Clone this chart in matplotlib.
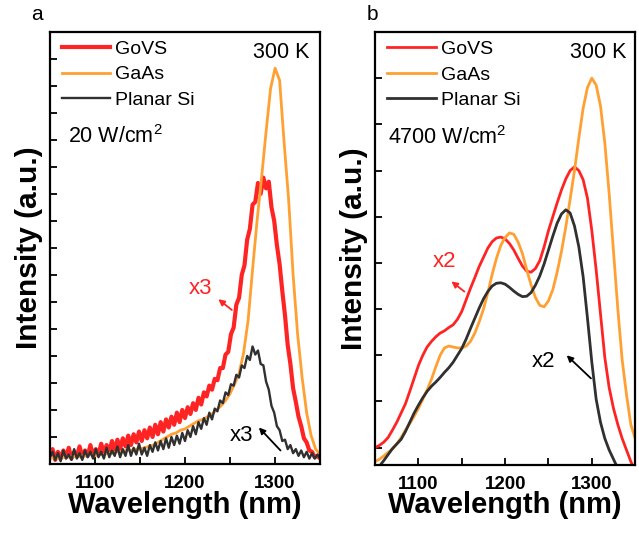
import numpy as np
import matplotlib.pyplot as plt
from matplotlib.ticker import MultipleLocator

plt.rcParams['font.family'] = ['Liberation Sans', 'DejaVu Sans']
plt.rcParams['mathtext.fontset'] = 'custom'
plt.rcParams['mathtext.rm'] = 'Liberation Sans'

# colores
rojo = '#ff2424'
naranja = '#ffa033'
negro = '#303030'

# ---- panel a: 20 W/cm2 (GoVS y Si multiplicados x3) ----
wl_a = np.arange(1050, 1351, 3)
govs_a = [0.30, 0.55, 0.15, 0.45, 0.20, 0.50, 0.25, 0.60, 0.20, 0.45,
          0.30, 0.65, 0.25, 0.50, 0.30, 0.70, 0.30, 0.55, 0.35, 0.75,
          0.40, 0.70, 0.45, 0.85, 0.50, 0.90, 0.55, 0.95, 0.65, 1.05,
          0.70, 1.10, 0.80, 1.20, 0.85, 1.25, 0.95, 1.35, 1.00, 1.45,
          1.10, 1.55, 1.20, 1.65, 1.35, 1.75, 1.45, 1.90, 1.55, 2.00,
          1.70, 2.10, 1.85, 2.25, 2.00, 2.45, 2.20, 2.65, 2.50, 2.90,
          2.75, 3.15, 3.10, 3.55, 3.55, 4.05, 4.15, 4.80, 5.05, 5.90,
          6.15, 7.00, 7.35, 8.30, 8.70, 9.60, 9.70, 10.40, 10.00, 10.60,
          10.20, 10.45, 9.50, 9.00, 8.10, 7.40, 6.40, 5.50, 4.40, 3.70,
          2.80, 2.30, 1.75, 1.40, 0.95, 0.80, 0.50, 0.45, 0.25, 0.30,
          0.20]
si_a = [0.25, 0.45, 0.15, 0.40, 0.10, 0.50, 0.20, 0.35, 0.15, 0.55,
        0.20, 0.40, 0.15, 0.50, 0.25, 0.45, 0.20, 0.55, 0.25, 0.45,
        0.20, 0.60, 0.25, 0.50, 0.30, 0.65, 0.25, 0.55, 0.30, 0.70,
        0.30, 0.60, 0.35, 0.75, 0.35, 0.60, 0.30, 0.70, 0.45, 0.80,
        0.50, 0.85, 0.55, 0.95, 0.60, 1.00, 0.70, 1.05, 0.75, 1.15,
        0.85, 1.25, 1.00, 1.40, 1.10, 1.55, 1.30, 1.70, 1.45, 1.90,
        1.65, 2.05, 1.95, 2.35, 2.25, 2.65, 2.55, 2.95, 2.90, 3.30,
        3.20, 3.65, 3.55, 4.00, 3.85, 4.35, 4.05, 4.20, 3.70, 3.65,
        3.05, 2.75, 2.15, 1.90, 1.40, 1.25, 0.85, 0.90, 0.55, 0.70,
        0.40, 0.55, 0.30, 0.50, 0.25, 0.45, 0.20, 0.40, 0.20, 0.35,
        0.20]
wl_a_gaas = np.arange(1050, 1351, 5)
gaas_a = [0.20, 0.25, 0.20, 0.25, 0.25, 0.30, 0.25, 0.30, 0.30, 0.35,
          0.30, 0.35, 0.35, 0.40, 0.40, 0.45, 0.45, 0.50, 0.50, 0.55,
          0.55, 0.60, 0.65, 0.70, 0.80, 0.90, 1.00, 1.10, 1.15, 1.25,
          1.30, 1.40, 1.50, 1.60, 1.65, 1.75, 1.85, 2.00, 2.15, 2.35,
          2.60, 2.95, 3.35, 4.10, 5.30, 7.20, 9.00, 10.60, 12.30, 13.90,
          14.65, 14.20, 11.90, 9.80, 7.00, 4.80, 3.20, 1.90, 1.05, 0.55,
          0.35]

# ---- panel b: 4700 W/cm2 ----
wl_b = np.arange(1050, 1351, 5)
govs_b = [0.00, 0.05, 0.12, 0.22, 0.38, 0.55, 0.75, 0.95, 1.22, 1.50,
          1.78, 2.00, 2.18, 2.30, 2.40, 2.48, 2.53, 2.60, 2.66, 2.78,
          2.95, 3.20, 3.45, 3.68, 3.92, 4.12, 4.32, 4.46, 4.54, 4.56,
          4.52, 4.42, 4.28, 4.10, 3.93, 3.82, 3.80, 3.88, 4.05, 4.35,
          4.70, 5.00, 5.30, 5.58, 5.82, 6.00, 6.08, 6.00, 5.80, 5.40,
          4.70, 3.85, 2.90, 1.95, 1.30, 0.85, 0.50, 0.20, -0.05, -0.30,
          -0.50]
gaas_b = [-0.30, -0.25, -0.18, -0.10, -0.03, 0.08, 0.22, 0.38, 0.52, 0.68,
          0.85, 1.05, 1.25, 1.48, 1.75, 2.00, 2.16, 2.20, 2.18, 2.16,
          2.16, 2.20, 2.30, 2.48, 2.72, 3.00, 3.35, 3.75, 4.10, 4.38,
          4.55, 4.65, 4.62, 4.45, 4.20, 3.85, 3.52, 3.25, 3.08, 3.05,
          3.18, 3.42, 3.80, 4.25, 4.78, 5.38, 6.00, 6.70, 7.35, 7.80,
          8.00, 7.85, 7.40, 6.60, 5.50, 4.25, 3.00, 1.90, 1.15, 0.50,
          0.20]
si_b = [-0.50, -0.40, -0.28, -0.15, -0.02, 0.08, 0.18, 0.35, 0.55, 0.75,
        0.92, 1.08, 1.22, 1.33, 1.42, 1.52, 1.63, 1.73, 1.85, 2.00,
        2.15, 2.35, 2.58, 2.80, 3.02, 3.22, 3.38, 3.50, 3.56, 3.57,
        3.54, 3.47, 3.39, 3.32, 3.27, 3.28, 3.36, 3.52, 3.72, 3.98,
        4.28, 4.58, 4.86, 5.06, 5.15, 5.08, 4.80, 4.35, 3.70, 2.80,
        1.85, 1.05, 0.55, 0.20, -0.05, -0.25, -0.45, -0.62, -0.78, -0.92,
        -1.05]

fig = plt.figure(figsize=(6.39, 5.33), dpi=100)
ax1 = fig.add_axes([0.078, 0.1295, 0.423, 0.811])
ax2 = fig.add_axes([0.587, 0.128, 0.407, 0.812])

ax1.plot(wl_a, govs_a, color=rojo, lw=3.0, label='GoVS')
ax1.plot(wl_a_gaas, gaas_a, color=naranja, lw=2.0, label='GaAs')
ax1.plot(wl_a, si_a, color=negro, lw=1.7, label='Planar Si')
ax1.set_ylim(0, 16)

ax2.plot(wl_b, govs_b, color=rojo, lw=2.0, label='GoVS')
ax2.plot(wl_b, gaas_b, color=naranja, lw=2.0, label='GaAs')
ax2.plot(wl_b, si_b, color=negro, lw=2.0, label='Planar Si')
ax2.set_ylim(-0.37, 9)

for ax, x_leg in ((ax1, 0.044), (ax2, 0.046)):
    ax.set_xlim(1050, 1350)
    ax.xaxis.set_major_locator(MultipleLocator(100))
    ax.xaxis.set_minor_locator(MultipleLocator(50))
    ax.yaxis.set_major_locator(MultipleLocator(1))
    ax.tick_params(axis='both', which='both', direction='in', length=5,
                   width=1.3, labelsize=13.5, pad=8)
    ax.tick_params(axis='y', labelleft=False)
    for lbl in ax.get_xticklabels():
        lbl.set_fontweight('bold')
    for s in ax.spines.values():
        s.set_linewidth(1.6)
    ax.set_xlabel('Wavelength (nm)', fontsize=21, fontweight='bold', labelpad=-1)
    ax.set_ylabel('Intensity (a.u.)', fontsize=21.5, fontweight='bold', labelpad=5)
    leg = ax.legend(loc='upper left', bbox_to_anchor=(x_leg, 0.98), frameon=False,
                    fontsize=14, handlelength=2.5, handletextpad=0.26,
                    labelspacing=0.4, borderpad=0, borderaxespad=0)
    ax.text(0.857, 0.953, '300 K', transform=ax.transAxes, fontsize=15.5,
            ha='center', va='center')

ax1.text(0.067, 0.757, '20 W/cm$^2$', transform=ax1.transAxes, fontsize=15.5,
         ha='left', va='center')
ax2.text(0.05, 0.757, '4700 W/cm$^2$', transform=ax2.transAxes, fontsize=15.5,
         ha='left', va='center')

# anotaciones x3 / x2 con flechas
flecha = dict(arrowstyle='-|>', lw=1.3, mutation_scale=9, shrinkA=0, shrinkB=0)
ax1.text(1217, 6.5, 'x3', color=rojo, fontsize=16, ha='center', va='center')
ax1.annotate('', xy=(1237, 6.1), xytext=(1252, 5.7),
             arrowprops=dict(flecha, color=rojo))
ax1.text(1263, 1.07, 'x3', color='black', fontsize=16, ha='center', va='center')
ax1.annotate('', xy=(1282, 1.35), xytext=(1306, 0.5),
             arrowprops=dict(flecha, color='black'))
ax2.text(1130, 4.03, 'x2', color=rojo, fontsize=16, ha='center', va='center')
ax2.annotate('', xy=(1138, 3.6), xytext=(1153, 3.38),
             arrowprops=dict(flecha, color=rojo))
ax2.text(1244, 1.86, 'x2', color='black', fontsize=16, ha='center', va='center')
ax2.annotate('', xy=(1271, 2.0), xytext=(1299, 1.5),
             arrowprops=dict(flecha, color='black'))

fig.text(37 / 639, 1 - 15 / 533, 'a', fontsize=15, ha='center', va='center')
fig.text(372 / 639, 1 - 15 / 533, 'b', fontsize=15, ha='center', va='center')

fig.savefig('out.png', dpi=100)
